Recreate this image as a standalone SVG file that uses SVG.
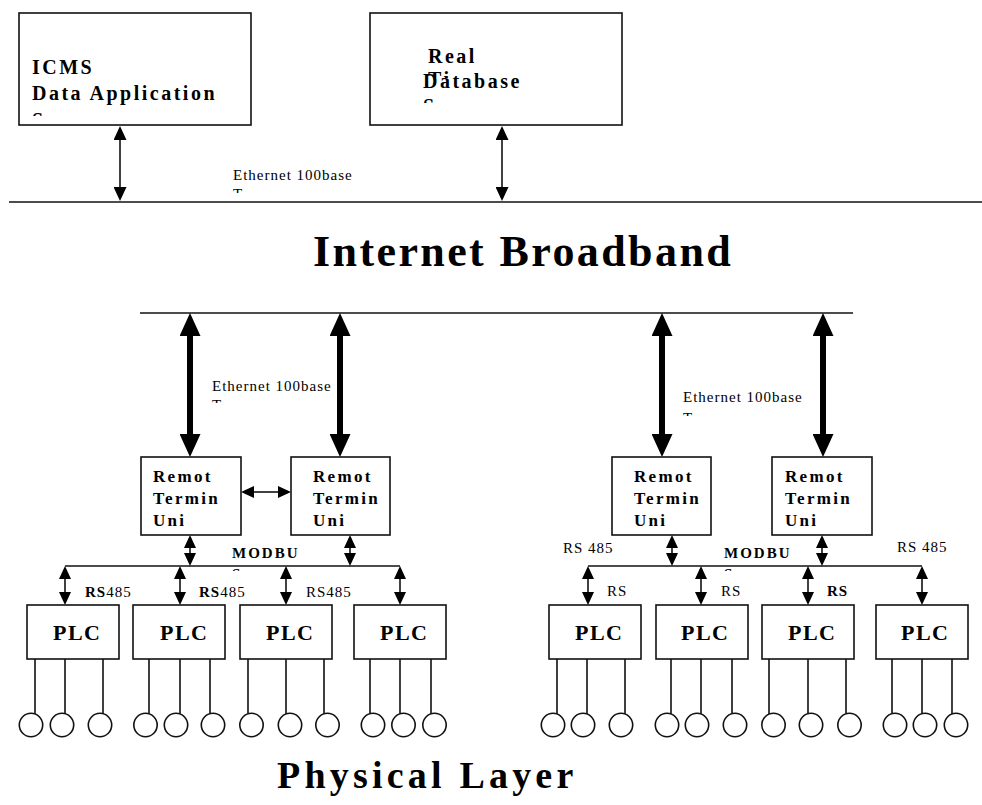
<svg xmlns="http://www.w3.org/2000/svg" width="982" height="805" viewBox="0 0 982 805">
<style>
.box{fill:#fff;stroke:#111;stroke-width:1.6}
.ln{stroke:#111;stroke-width:1.6;fill:none}
.thk{stroke:#000;stroke-width:6;fill:none}
.t{font-family:"Liberation Serif","Times New Roman",serif;fill:#000}
.tb{font-family:"Liberation Serif","Times New Roman",serif;font-weight:bold;fill:#000}
.rtu{font-size:17px;letter-spacing:2.3px}
.plc{font-size:22px;letter-spacing:1.5px}
.lab{font-size:15px;letter-spacing:1px}
.eth{font-size:15px;letter-spacing:1px}
.top{font-size:20px;letter-spacing:2.5px}
.cir{fill:#fff;stroke:#111;stroke-width:1.6}
</style>
<defs>
<marker id="ah" viewBox="0 0 14 13" refX="0" refY="6.5" markerWidth="14" markerHeight="13" markerUnits="userSpaceOnUse" orient="auto-start-reverse"><path d="M0,0 L14,6.5 L0,13 z" fill="#000"/></marker>
<marker id="as" viewBox="0 0 13 12" refX="0" refY="6" markerWidth="13" markerHeight="12" markerUnits="userSpaceOnUse" orient="auto-start-reverse"><path d="M0,0 L13,6 L0,12 z" fill="#000"/></marker>
<marker id="ab" viewBox="0 0 23 21" refX="0" refY="10.5" markerWidth="23" markerHeight="21" markerUnits="userSpaceOnUse" orient="auto-start-reverse"><path d="M0,0 L23,10.5 L0,21 z" fill="#000"/></marker>
<clipPath id="c1"><rect x="0" y="0" width="982" height="116"/></clipPath>
<clipPath id="c2"><rect x="0" y="0" width="982" height="78"/></clipPath>
<clipPath id="c3"><rect x="0" y="0" width="982" height="103"/></clipPath>
<clipPath id="c4"><rect x="0" y="0" width="982" height="193"/></clipPath>
<clipPath id="c5"><rect x="0" y="0" width="982" height="403"/></clipPath>
<clipPath id="c6"><rect x="0" y="0" width="982" height="416"/></clipPath>
<clipPath id="c7"><rect x="0" y="0" width="982" height="571"/></clipPath>
<clipPath id="c8"><rect x="0" y="0" width="982" height="608"/></clipPath>
</defs>

<g id="connectors">
  <line class="ln" x1="9" y1="202" x2="982" y2="202"/>
  <line class="ln" x1="140" y1="313" x2="853" y2="313"/>
  <line class="ln" x1="120" y1="140" x2="120" y2="187" marker-start="url(#ah)" marker-end="url(#ah)"/>
  <line class="ln" x1="502" y1="140" x2="502" y2="187" marker-start="url(#ah)" marker-end="url(#ah)"/>
  <line class="thk" x1="190" y1="336" x2="190" y2="434" marker-start="url(#ab)" marker-end="url(#ab)"/>
  <line class="thk" x1="340" y1="336" x2="340" y2="434" marker-start="url(#ab)" marker-end="url(#ab)"/>
  <line class="thk" x1="662" y1="336" x2="662" y2="434" marker-start="url(#ab)" marker-end="url(#ab)"/>
  <line class="thk" x1="823" y1="336" x2="823" y2="434" marker-start="url(#ab)" marker-end="url(#ab)"/>
  <line class="ln" x1="254" y1="492" x2="278" y2="492" marker-start="url(#as)" marker-end="url(#as)"/>
  <line class="ln" x1="65" y1="566" x2="400" y2="566"/>
  <line class="ln" x1="588" y1="566" x2="922" y2="566"/>
  <line class="ln" x1="190" y1="548" x2="190" y2="553" marker-start="url(#as)" marker-end="url(#as)"/>
  <line class="ln" x1="350" y1="548" x2="350" y2="553" marker-start="url(#as)" marker-end="url(#as)"/>
  <line class="ln" x1="672" y1="548" x2="672" y2="553" marker-start="url(#as)" marker-end="url(#as)"/>
  <line class="ln" x1="822" y1="548" x2="822" y2="553" marker-start="url(#as)" marker-end="url(#as)"/>
  <line class="ln" x1="65" y1="579" x2="65" y2="592" marker-start="url(#as)" marker-end="url(#as)"/>
  <line class="ln" x1="180" y1="579" x2="180" y2="592" marker-start="url(#as)" marker-end="url(#as)"/>
  <line class="ln" x1="286" y1="579" x2="286" y2="592" marker-start="url(#as)" marker-end="url(#as)"/>
  <line class="ln" x1="400" y1="579" x2="400" y2="592" marker-start="url(#as)" marker-end="url(#as)"/>
  <line class="ln" x1="588" y1="579" x2="588" y2="592" marker-start="url(#as)" marker-end="url(#as)"/>
  <line class="ln" x1="701" y1="579" x2="701" y2="592" marker-start="url(#as)" marker-end="url(#as)"/>
  <line class="ln" x1="808" y1="579" x2="808" y2="592" marker-start="url(#as)" marker-end="url(#as)"/>
  <line class="ln" x1="922" y1="579" x2="922" y2="592" marker-start="url(#as)" marker-end="url(#as)"/>
  <g id="sensor-lines">
    <path class="ln" d="M35,659V714M65,659V714M103,659V714M149,659V714M180,659V714M210,659V714M248,659V714M286,659V714M324,659V714M370,659V714M400,659V714M431,659V714"/>
    <path class="ln" d="M557,659V714M587,659V714M625,659V714M671,659V714M701,659V714M732,659V714M769,659V714M808,659V714M846,659V714M892,659V714M922,659V714M952,659V714"/>
  </g>
</g>

<g id="labels">
  <text class="t eth" x="233" y="180">Ethernet 100base</text>
  <text class="t eth" x="233" y="199" clip-path="url(#c4)">T</text>
  <text class="t eth" x="212" y="391">Ethernet 100base</text>
  <text class="t eth" x="212" y="410" clip-path="url(#c5)">T</text>
  <text class="t eth" x="683" y="402">Ethernet 100base</text>
  <text class="t eth" x="683" y="423" clip-path="url(#c6)">T</text>
  <text class="tb lab" x="232" y="558" style="letter-spacing:2px">MODBU</text>
  <text class="tb lab" x="232" y="579" clip-path="url(#c7)">S</text>
  <text class="tb lab" x="724" y="558" style="letter-spacing:2px">MODBU</text>
  <text class="tb lab" x="724" y="579" clip-path="url(#c7)">S</text>
  <text class="t lab" x="85" y="597"><tspan font-weight="bold">RS</tspan>485</text>
  <text class="t lab" x="86" y="616" clip-path="url(#c8)">485</text>
  <text class="t lab" x="199" y="597"><tspan font-weight="bold">RS</tspan>485</text>
  <text class="t lab" x="200" y="616" clip-path="url(#c8)">485</text>
  <text class="t lab" x="306" y="597">RS485</text>
  <text class="t lab" x="563" y="553">RS 485</text>
  <text class="t lab" x="897" y="552">RS 485</text>
  <text class="t lab" x="607" y="596">RS</text>
  <text class="t lab" x="607" y="616" clip-path="url(#c8)">485</text>
  <text class="t lab" x="721" y="596">RS</text>
  <text class="t lab" x="721" y="616" clip-path="url(#c8)">485</text>
  <text class="tb lab" x="827" y="596">RS</text>
  <text class="tb lab" x="827" y="616" clip-path="url(#c8)">485</text>
  <text class="tb" x="313" y="266" font-size="44" letter-spacing="2.4">Internet Broadband</text>
  <text class="tb" x="277" y="788" font-size="38" letter-spacing="4.2">Physical Layer</text>
</g>

<g id="icms">
  <rect class="box" x="19" y="13" width="232" height="112"/>
  <text class="tb top" x="32" y="74">ICMS</text>
  <text class="tb top" x="32" y="100">Data Application</text>
  <text class="tb top" x="32" y="127" clip-path="url(#c1)">S</text>
</g>
<g id="realtime-db">
  <rect class="box" x="370" y="13" width="252" height="112"/>
  <text class="tb top" x="428" y="63">Real</text>
  <text class="tb top" x="428" y="86" clip-path="url(#c2)">Ti</text>
  <text class="tb top" x="423" y="88">Database</text>
  <text class="tb top" x="423" y="113" clip-path="url(#c3)">S</text>
</g>

<g id="rtu1"><rect class="box" x="141" y="457" width="100" height="78"/>
  <text class="tb rtu" x="153" y="482">Remot</text><text class="tb rtu" x="153" y="504">Termin</text><text class="tb rtu" x="153" y="526">Uni</text></g>
<g id="rtu2"><rect class="box" x="291" y="457" width="99" height="78"/>
  <text class="tb rtu" x="313" y="482">Remot</text><text class="tb rtu" x="313" y="504">Termin</text><text class="tb rtu" x="313" y="526">Uni</text></g>
<g id="rtu3"><rect class="box" x="612" y="457" width="99" height="78"/>
  <text class="tb rtu" x="634" y="482">Remot</text><text class="tb rtu" x="634" y="504">Termin</text><text class="tb rtu" x="634" y="526">Uni</text></g>
<g id="rtu4"><rect class="box" x="772" y="457" width="100" height="78"/>
  <text class="tb rtu" x="785" y="482">Remot</text><text class="tb rtu" x="785" y="504">Termin</text><text class="tb rtu" x="785" y="526">Uni</text></g>

<g id="plc1"><rect class="box" x="27" y="605" width="92" height="54"/><text class="tb plc" x="53" y="640">PLC</text></g>
<g id="plc2"><rect class="box" x="133" y="605" width="92" height="54"/><text class="tb plc" x="160" y="640">PLC</text></g>
<g id="plc3"><rect class="box" x="240" y="605" width="92" height="54"/><text class="tb plc" x="266" y="640">PLC</text></g>
<g id="plc4"><rect class="box" x="354" y="605" width="92" height="54"/><text class="tb plc" x="380" y="640">PLC</text></g>
<g id="plc5"><rect class="box" x="549" y="605" width="92" height="54"/><text class="tb plc" x="575" y="640">PLC</text></g>
<g id="plc6"><rect class="box" x="656" y="605" width="92" height="54"/><text class="tb plc" x="681" y="640">PLC</text></g>
<g id="plc7"><rect class="box" x="762" y="605" width="92" height="54"/><text class="tb plc" x="788" y="640">PLC</text></g>
<g id="plc8"><rect class="box" x="876" y="605" width="92" height="54"/><text class="tb plc" x="901" y="640">PLC</text></g>

<g id="sensors">
  <circle class="cir" cx="31" cy="725" r="11.7"/><circle class="cir" cx="62" cy="725" r="11.7"/><circle class="cir" cx="100" cy="725" r="11.7"/>
  <circle class="cir" cx="145.5" cy="725" r="11.7"/><circle class="cir" cx="176" cy="725" r="11.7"/><circle class="cir" cx="213" cy="725" r="11.7"/>
  <circle class="cir" cx="251.5" cy="725" r="11.7"/><circle class="cir" cx="290" cy="725" r="11.7"/><circle class="cir" cx="327.5" cy="725" r="11.7"/>
  <circle class="cir" cx="373" cy="725" r="11.7"/><circle class="cir" cx="403.5" cy="725" r="11.7"/><circle class="cir" cx="434.5" cy="725" r="11.7"/>
  <circle class="cir" cx="553" cy="725" r="11.7"/><circle class="cir" cx="583" cy="725" r="11.7"/><circle class="cir" cx="621" cy="725" r="11.7"/>
  <circle class="cir" cx="667" cy="725" r="11.7"/><circle class="cir" cx="697" cy="725" r="11.7"/><circle class="cir" cx="735" cy="725" r="11.7"/>
  <circle class="cir" cx="773.5" cy="725" r="11.7"/><circle class="cir" cx="811" cy="725" r="11.7"/><circle class="cir" cx="849.5" cy="725" r="11.7"/>
  <circle class="cir" cx="895" cy="725" r="11.7"/><circle class="cir" cx="925" cy="725" r="11.7"/><circle class="cir" cx="956" cy="725" r="11.7"/>
</g>
</svg>
